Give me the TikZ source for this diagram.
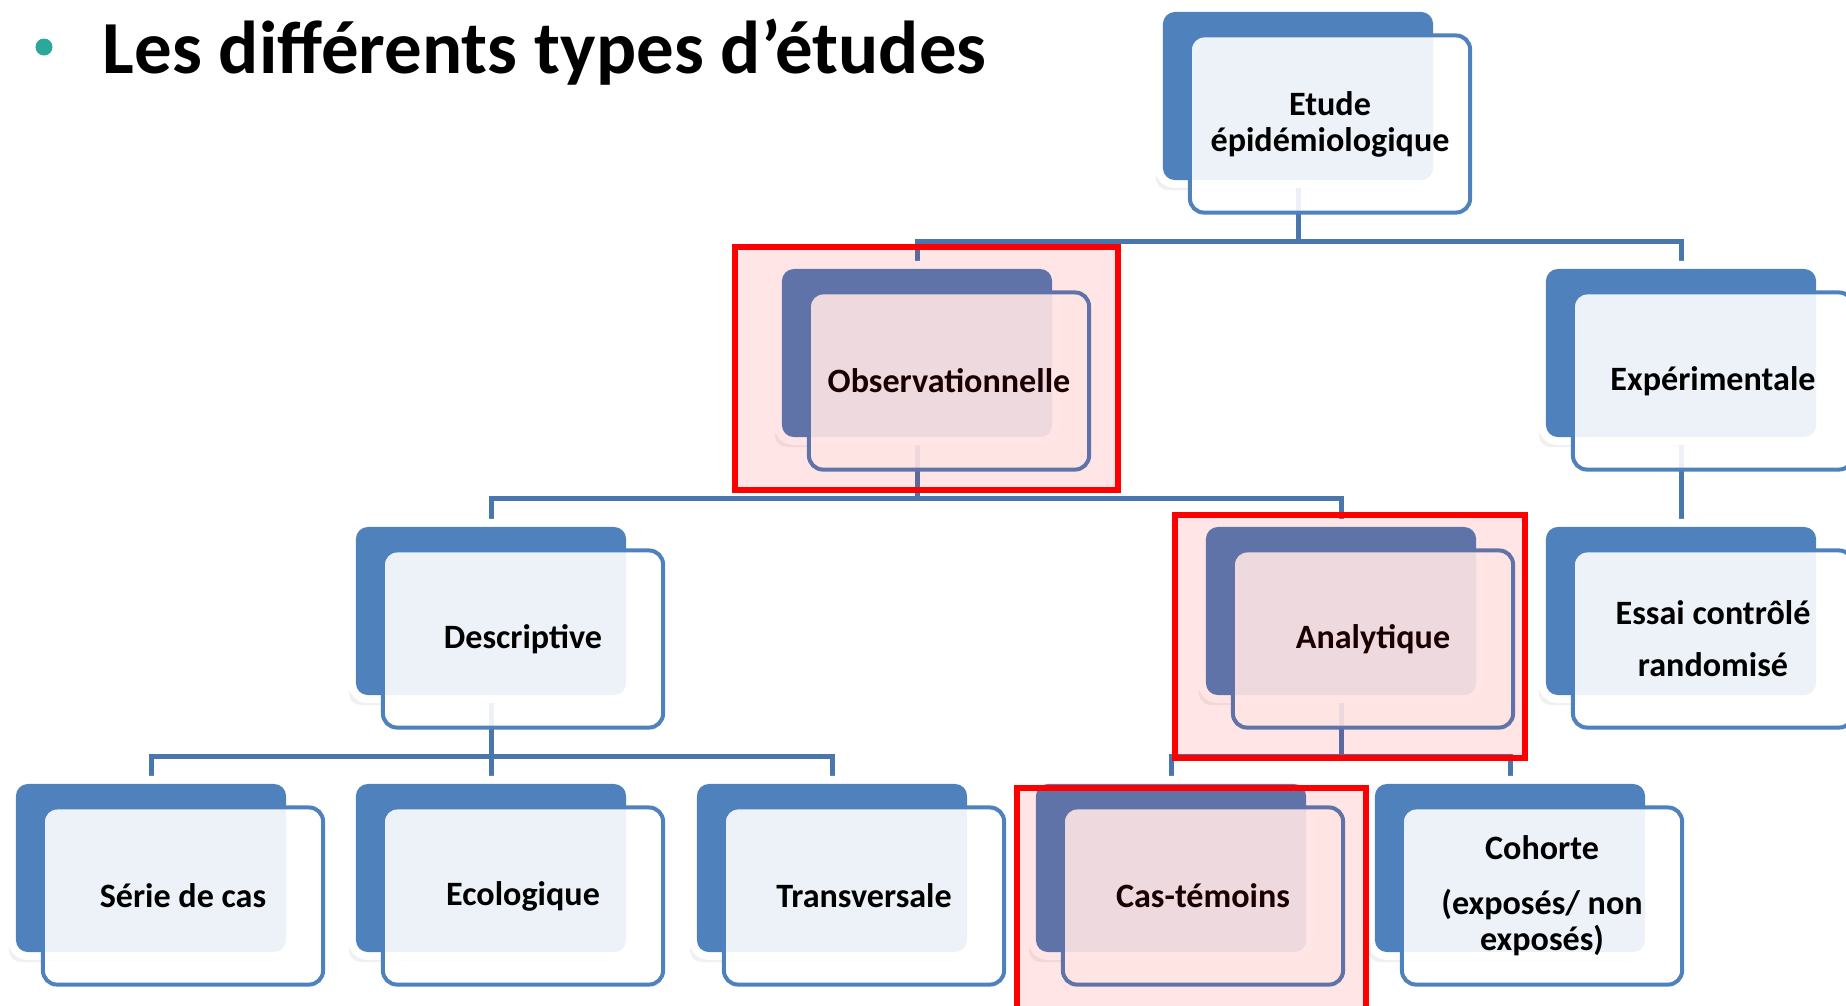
\documentclass[tikz,border=0pt]{standalone}
\usepackage{fontspec}
\setmainfont{Carlito}
\usetikzlibrary{calc,shadows,backgrounds}
\definecolor{boxblue}{HTML}{4F81BD}
\definecolor{linkblue}{HTML}{4A76AE}
\definecolor{dotteal}{HTML}{2BA899}
\tikzset{
	backbox/.style={rectangle, rounded corners=0.12cm, drop shadow={shadow xshift=-0.07cm, shadow yshift=-0.1cm, opacity=0.12}, preaction={draw=white, line width=0.16cm}, fill=boxblue, minimum width=2.7cm, minimum height=1.68cm, inner sep=0pt},
	frontbox/.style={rectangle, rounded corners=0.14cm, fill=white, fill opacity=0.9, text opacity=1, draw=boxblue, line width=0.04cm, minimum width=2.8cm, minimum height=1.77cm, inner sep=0pt, align=center, font=\fontsize{9.7}{10.2}\selectfont\bfseries},
	link/.style={draw=linkblue, line width=0.05cm},
	hilite/.style={draw=red, line width=0.06cm, fill=red, fill opacity=0.1},
	dot/.style={circle, fill=dotteal, minimum size=0.17cm, inner sep=0pt}
}
\def\studybox(#1)(#2,#3)#4{\node[backbox] (#1b) at (#2+135,#3+84) {};
	\node[frontbox] (#1) at (#2+167,#3+112) {#4};}

\begin{document}
\begin{tikzpicture}[x=0.01cm, y=-0.01cm]
			%%%%% START %%%%%
			\useasboundingbox (0,0) rectangle (1846,1005);
			\clip (0,0) rectangle (1846,1005);
			
			\node[dot] (bul) at (44,47) {};
			\node[anchor=base west, inner sep=0pt, font=\fontsize{21.3}{25}\selectfont\bfseries] (title) at (102,73) {Les différents types d’études};
			
			\studybox(top)(1163,12){Etude\\épidémiologique}
			
			\studybox(obs)(782,269){Observationnelle}
			\studybox(exp)(1546,269){Expérimentale}
			
			\studybox(desc)(356,527){Descriptive}
			\studybox(ana)(1206,527){Analytique}
			\studybox(essai)(1546,527){Essai contrôlé\\[4.6pt]randomisé}
			
			\studybox(serie)(16,784){Série de cas}
			\studybox(eco)(356,784){Ecologique}
			\studybox(trans)(697,784){Transversale}
			\studybox(cas)(1036,784){Cas-témoins}
			\studybox(coh)(1375,784){Cohorte\\[5.5pt](exposés/ non\\exposés)}
			
			\begin{scope}[on background layer]
				\coordinate (bar1) at ($(top.south)!.5!(obsb.north)$);
				\draw[link] (topb) -- (topb |- bar1) -| (obsb.north);
				\draw[link] (topb |- bar1) -| (expb.north);
				
				\coordinate (bar2) at ($(obs.south)!.5!(descb.north)$);
				\draw[link] (obsb) -- (obsb |- bar2) -| (descb.north);
				\draw[link] (obsb |- bar2) -| (anab.north);
				\draw[link] (expb) -- (essaib.north);
				
				\coordinate (bar3) at ($(desc.south)!.5!(serieb.north)$);
				\draw[link] (descb) -- (descb |- bar3) -| (serieb.north);
				\draw[link] (descb |- bar3) -| (transb.north);
				\draw[link] (descb |- bar3) -- (ecob.north);
				\draw[link] (anab) -- (anab |- bar3) -| (casb.north);
				\draw[link] (anab |- bar3) -| (cohb.north);
			\end{scope}
			
			\draw[hilite] (735,247) rectangle (1118,490);
			\draw[hilite] (1175,515) rectangle (1525,758);
			\draw[hilite] (1017,788) rectangle (1366,1020);
			%%%%% END %%%%%
\end{tikzpicture}
\end{document}
